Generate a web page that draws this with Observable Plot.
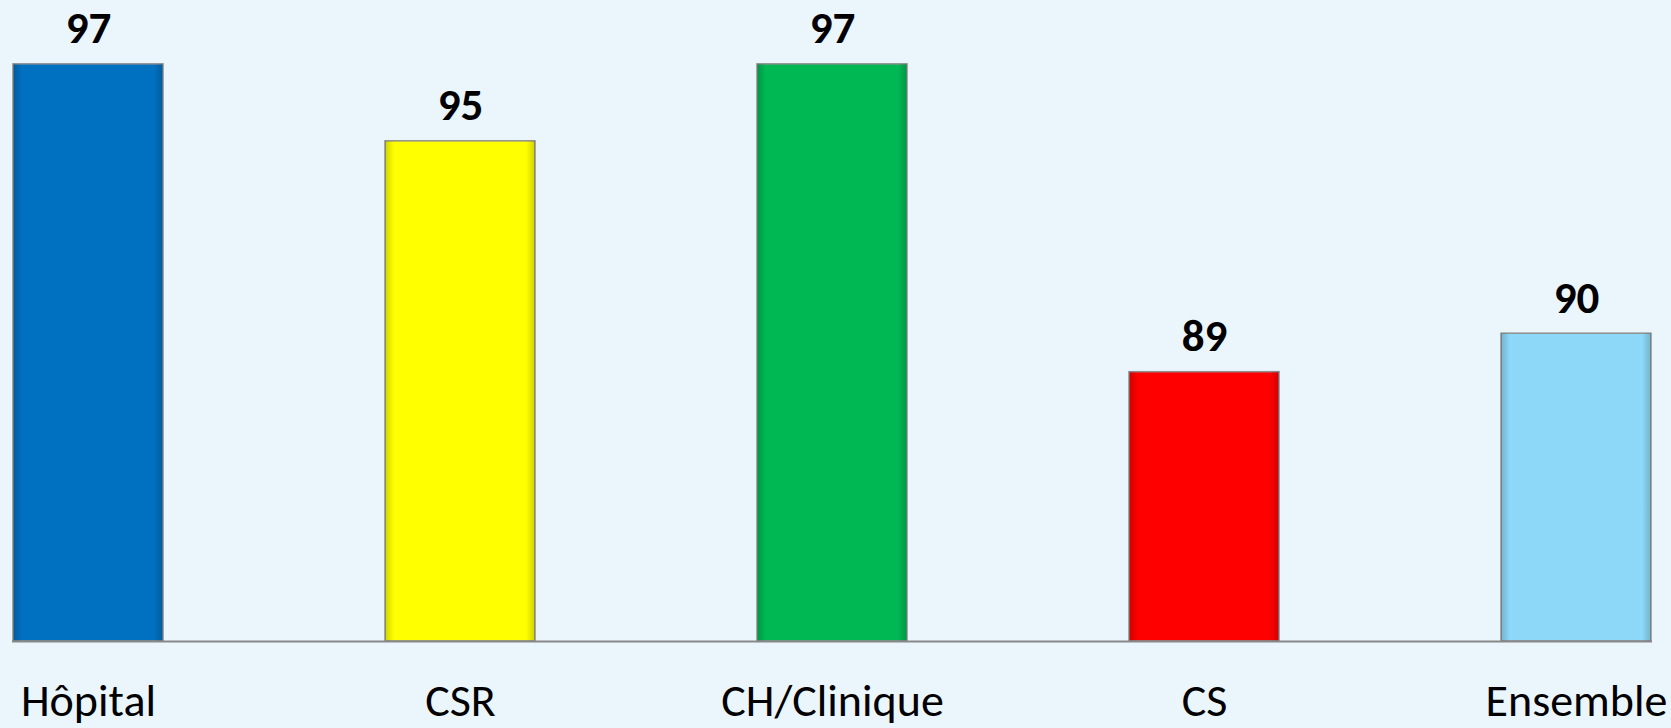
<!DOCTYPE html>
<html>
<head>
<meta charset="utf-8">
<script src="https://cdn.jsdelivr.net/npm/d3@7"></script>
<script src="https://cdn.jsdelivr.net/npm/@observablehq/plot@0.6"></script>
<style>
  html, body { margin: 0; padding: 0; background: #EBF6FC; }
  #chart svg { display: block; }
</style>
</head>
<body>
<div id="chart"></div>
<script>
const categories = ["Hôpital", "CSR", "CH/Clinique", "CS", "Ensemble"];
const values = [97, 95, 97, 89, 90];
const barColors = ["#0070C0", "#FFFF00", "#00B853", "#FF0000", "#8DD8F8"];
const yMin = 82;
const yMax = 98.66;

const data = categories.map((c, i) => ({cat: c, value: values[i]}));

const chart = Plot.plot({
  width: 1671,
  height: 728,
  marginLeft: 12,
  marginRight: 19,
  marginTop: 0,
  marginBottom: 87,
  style: {background: "#EBF6FC", fontFamily: "Carlito, Calibri, Lato, sans-serif", color: "black"},
  x: {domain: categories, paddingInner: 0.597, paddingOuter: 0, label: null},
  y: {domain: [yMin, yMax], axis: null},
  color: {domain: categories, range: barColors},
  marks: [
    Plot.barY(data, {x: "cat", y1: () => yMin, y2: "value", fill: "cat", stroke: "#8f8f8f", strokeWidth: 1.5}),
    Plot.barY(data, {x: "cat", y1: () => yMin, y2: "value", fill: "url(#sideShade)"}),
    Plot.ruleY([yMin], {stroke: "#888888", strokeWidth: 2}),
    Plot.text(data, {x: "cat", y: "value", text: d => String(d.value), dy: -21, lineAnchor: "bottom", fontSize: 45, fontWeight: "bold", fill: "black"}),
    Plot.axisX({tickSize: 0, tickPadding: 42, fontSize: 46, fill: "black", label: null})
  ]
});

// gradient definitions for a subtle bevel on the bar sides
const ns = "http://www.w3.org/2000/svg";
const defs = document.createElementNS(ns, "defs");
defs.innerHTML = `
  <linearGradient id="sideShade" x1="0" y1="0" x2="1" y2="0">
    <stop offset="0" stop-color="#000" stop-opacity="0.18"/>
    <stop offset="0.06" stop-color="#000" stop-opacity="0"/>
    <stop offset="0.94" stop-color="#000" stop-opacity="0"/>
    <stop offset="1" stop-color="#000" stop-opacity="0.18"/>
  </linearGradient>`;
chart.insertBefore(defs, chart.firstChild);

document.getElementById("chart").appendChild(chart);
</script>
</body>
</html>
